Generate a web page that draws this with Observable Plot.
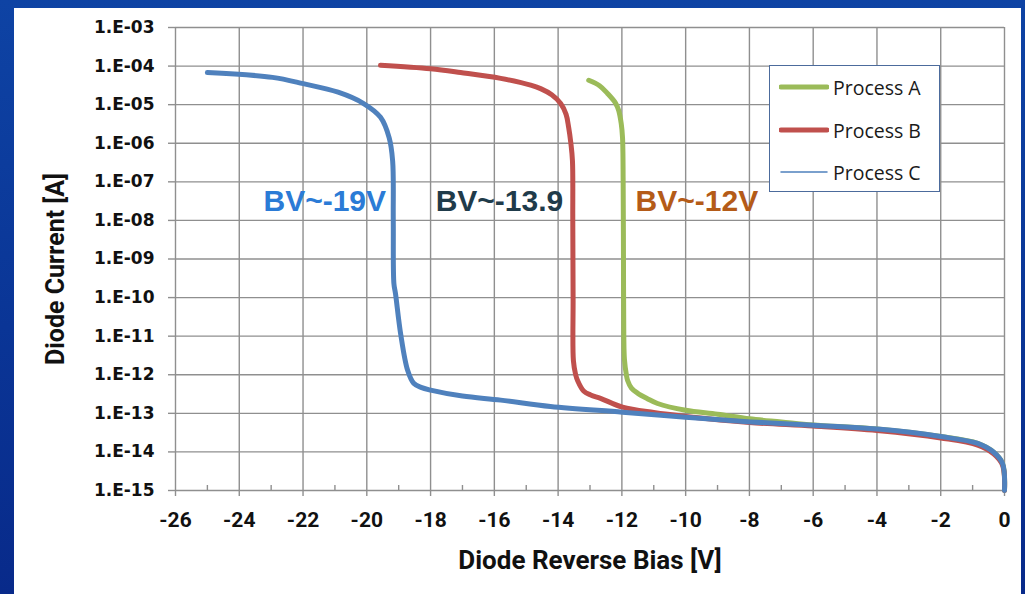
<!DOCTYPE html>
<html>
<head>
<meta charset="utf-8">
<script src="https://cdn.jsdelivr.net/npm/d3@7"></script>
<script src="https://cdn.jsdelivr.net/npm/@observablehq/plot@0.6"></script>
<style>
  html, body { margin: 0; padding: 0; }
  body {
    width: 1025px; height: 594px; overflow: hidden; position: relative;
    background: linear-gradient(180deg, #0e43a4 0%, #0a3596 55%, #082a8a 100%);
  }
  #panel { position: absolute; left: 14px; top: 8px; width: 1007px; height: 586px; background: #fff; }
  #panel svg { display: block; }
  #legend {
    position: absolute; left: 769px; top: 65px; width: 171px; height: 127px;
    box-sizing: border-box; border: 1.5px solid #4c6b9c; background: #fff;
    font-family: "Open Sans", sans-serif; font-size: 19.5px; color: #1a1a1a;
  }
  #legend .row { position: absolute; left: 9px; height: 24px; display: flex; align-items: center; }
  #legend svg { width: 50px; height: 10px; margin-right: 4px; }
</style>
</head>
<body>
<div id="panel"></div>
<div id="legend"></div>
<script>
// Reverse-bias I-V sweeps for three diode processes (voltage in V, current in A)
const voltsA = [-13.04, -12.7, -12.45, -12.2, -12.1, -12.02, -11.98, -11.96, -11.95, -11.94, -11.92, -11.86, -11.82, -11.7, -11.5, -11.2, -10.88, -10.0, -9.0, -8.0, -7.0, -6.0, -4.0, -2.0, -0.84, -0.34, -0.06, 0];
const currentA = [4.3e-5, 3.1e-5, 1.95e-5, 1.1e-5, 7.1e-6, 3.2e-6, 1.4e-6, 1.0e-7, 1.0e-9, 1.0e-11, 2.5e-12, 1.0e-12, 7.1e-13, 4.5e-13, 3.3e-13, 2.4e-13, 1.8e-13, 1.2e-13, 9.5e-14, 7.2e-14, 6.0e-14, 5.0e-14, 3.9e-14, 2.5e-14, 1.66e-14, 9.8e-15, 5.0e-15, 1.0e-15];

const voltsB = [-19.57, -18.0, -17.06, -15.8, -14.86, -14.55, -14.2, -13.92, -13.75, -13.67, -13.6, -13.55, -13.54, -13.53, -13.52, -13.45, -13.39, -13.2, -12.98, -12.67, -11.98, -11.0, -10.0, -8.0, -6.0, -4.0, -2.0, -0.84, -0.34, -0.06, 0];
const currentB = [1.05e-4, 8.5e-5, 6.8e-5, 4.8e-5, 3.2e-5, 2.6e-5, 1.8e-5, 1.07e-5, 5.6e-6, 2.6e-6, 1.0e-6, 3.5e-7, 1.0e-8, 1.0e-10, 2.3e-12, 1.0e-12, 7.1e-13, 3.8e-13, 3.0e-13, 2.45e-13, 1.45e-13, 1.05e-13, 8.3e-14, 5.8e-14, 4.7e-14, 3.6e-14, 2.3e-14, 1.5e-14, 8.9e-15, 4.5e-15, 1.0e-15];

const voltsC = [-25.0, -22.96, -21.99, -20.9, -20.1, -19.57, -19.3, -19.19, -19.17, -19.15, -19.1, -18.94, -18.72, -18.53, -18.3, -18.0, -17.0, -15.8, -14.24, -11.98, -10.0, -7.96, -5.99, -3.98, -2.0, -0.84, -0.34, -0.06, 0];
const currentC = [6.8e-5, 5.1e-5, 3.5e-5, 2.1e-5, 1.07e-5, 4.7e-6, 1.4e-6, 3.5e-7, 1.0e-8, 2.3e-10, 1.26e-10, 1.17e-11, 1.3e-12, 6.0e-13, 4.7e-13, 4.0e-13, 2.8e-13, 2.2e-13, 1.5e-13, 1.07e-13, 7.9e-14, 6.0e-14, 4.9e-14, 3.9e-14, 2.5e-14, 1.66e-14, 9.8e-15, 5.0e-15, 1.0e-15];

const seriesNames = ["Process A", "Process B", "Process C"];
const seriesColors = ["#9bbb59", "#c0504d", "#4f81bd"];

// Breakdown-voltage call-outs
const bvLabels = ["BV~-19V", "BV~-13.9", "BV~-12V"];
const bvVolts = [-23.24, -17.84, -11.57];
const bvCurrent = [3.1e-8, 3.1e-8, 3.1e-8];
const bvColors = ["#2b7bd6", "#1f3b4a", "#b45b18"];

// Axis ticks
const xTicks = [-26, -24, -22, -20, -18, -16, -14, -12, -10, -8, -6, -4, -2, 0];
const xMinorTicks = [-25, -23, -21, -19, -17, -15, -13, -11, -9, -7, -5, -3, -1];
const yTicks = [1e-3, 1e-4, 1e-5, 1e-6, 1e-7, 1e-8, 1e-9, 1e-10, 1e-11, 1e-12, 1e-13, 1e-14, 1e-15];
const yTickLabels = ["1.E-03", "1.E-04", "1.E-05", "1.E-06", "1.E-07", "1.E-08", "1.E-09", "1.E-10", "1.E-11", "1.E-12", "1.E-13", "1.E-14", "1.E-15"];

const toRows = (name, volts, current) => volts.map((v, i) => ({series: name, v, i: current[i]}));
const rowsA = toRows(seriesNames[0], voltsA, currentA);
const rowsB = toRows(seriesNames[1], voltsB, currentB);
const rowsC = toRows(seriesNames[2], voltsC, currentC);
const bvRows = bvLabels.map((t, k) => ({t, v: bvVolts[k], i: bvCurrent[k], c: bvColors[k]}));
const yLabelOf = new Map(yTicks.map((t, k) => [t, yTickLabels[k]]));

const W = 1007, H = 586;
const M = {top: 19, right: 17, bottom: 104, left: 161};
const plotH = H - M.top - M.bottom;
const gridColor = "#8f8f8f";

const chart = Plot.plot({
  width: W, height: H,
  marginTop: M.top, marginRight: M.right, marginBottom: M.bottom, marginLeft: M.left,
  style: {background: "#fff", overflow: "visible"},
  x: {domain: [-26, 0]},
  y: {type: "log", domain: [1e-15, 1e-3]},
  marks: [
    Plot.gridX(xTicks, {stroke: gridColor, strokeOpacity: 1, strokeWidth: 1.4}),
    Plot.gridY(yTicks, {stroke: gridColor, strokeOpacity: 1, strokeWidth: 1.4}),
    Plot.tickX(xMinorTicks, {x: d => d, insetTop: plotH - 5, stroke: gridColor, strokeWidth: 1.4}),
    Plot.axisX({
      ticks: xTicks, tickSize: 6, tickPadding: 16, stroke: gridColor, strokeWidth: 1.4,
      tickFormat: d => String(d), label: null,
      fontFamily: "Roboto, sans-serif", fontWeight: "bold", fontSize: 21, fill: "#111"
    }),
    Plot.axisY({
      ticks: yTicks, tickSize: 7, tickPadding: 14, stroke: gridColor, strokeWidth: 1.4,
      tickFormat: d => yLabelOf.get(d), label: null,
      fontFamily: "DejaVu Sans, sans-serif", fontWeight: "bold", fontSize: 17, fill: "#111"
    }),
    Plot.line(rowsA, {x: "v", y: "i", stroke: seriesColors[0], strokeWidth: 5, curve: "catmull-rom", strokeLinecap: "round", strokeLinejoin: "round"}),
    Plot.line(rowsB, {x: "v", y: "i", stroke: seriesColors[1], strokeWidth: 5, curve: "catmull-rom", strokeLinecap: "round", strokeLinejoin: "round"}),
    Plot.line(rowsC, {x: "v", y: "i", stroke: seriesColors[2], strokeWidth: 5, curve: "catmull-rom", strokeLinecap: "round", strokeLinejoin: "round"}),
    Plot.text(bvRows, {
      x: "v", y: "i", text: "t", fill: "c", textAnchor: "start",
      fontFamily: "Liberation Sans, Arial, sans-serif", fontWeight: "bold", fontSize: 30
    }),
    Plot.text(["Diode Reverse Bias [V]"], {
      frameAnchor: "bottom", dy: 78, textAnchor: "middle",
      fontFamily: "Roboto, sans-serif", fontWeight: "bold", fontSize: 26, fill: "#111"
    }),
    Plot.text(["Diode Current [A]"], {
      frameAnchor: "left", dx: -120, dy: 10, rotate: -90, textAnchor: "middle",
      fontFamily: "Roboto, sans-serif", fontWeight: "bold", fontSize: 25, fill: "#111"
    })
  ]
});
document.getElementById("panel").appendChild(chart);

// Legend box: two thick swatches and one thin one
const legend = document.getElementById("legend");
const legendWidths = [5, 5, 1.5];
const legendTops = [9, 52, 94];
seriesNames.forEach((name, k) => {
  const row = document.createElement("div");
  row.className = "row";
  row.style.top = legendTops[k] + "px";
  row.innerHTML = `<svg viewBox="0 0 50 10"><line x1="2" y1="5" x2="48" y2="5" stroke="${seriesColors[k]}" stroke-width="${legendWidths[k]}" stroke-linecap="round"/></svg><span>${name}</span>`;
  legend.appendChild(row);
});
</script>
</body>
</html>
